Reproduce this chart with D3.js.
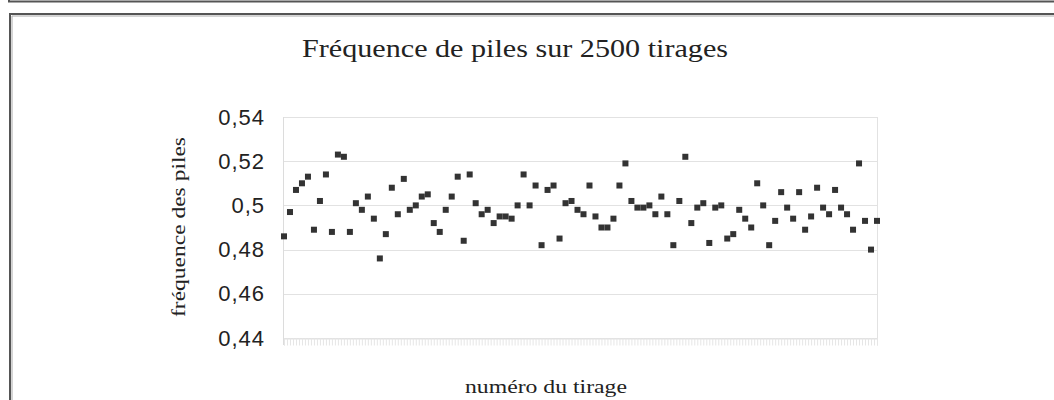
<!DOCTYPE html>
<html>
<head>
<meta charset="utf-8">
<script src="https://cdn.jsdelivr.net/npm/d3@7"></script>
<style>
  body { margin: 0; background: #fff; }
  svg { display: block; }
</style>
</head>
<body>
<div id="chart"></div>
<script>
'use strict';

// frequence des piles, un point tous les 25 tirages
var frequences = [
    0.486, 0.497, 0.507, 0.510, 0.513, 0.489, 0.502, 0.514, 0.488, 0.523,
    0.522, 0.488, 0.501, 0.498, 0.504, 0.494, 0.476, 0.487, 0.508, 0.496,
    0.512, 0.498, 0.500, 0.504, 0.505, 0.492, 0.488, 0.498, 0.504, 0.513,
    0.484, 0.514, 0.501, 0.496, 0.498, 0.492, 0.495, 0.495, 0.494, 0.500,
    0.514, 0.500, 0.509, 0.482, 0.507, 0.509, 0.485, 0.501, 0.502, 0.498,
    0.496, 0.509, 0.495, 0.490, 0.490, 0.494, 0.509, 0.519, 0.502, 0.499,
    0.499, 0.500, 0.496, 0.504, 0.496, 0.482, 0.502, 0.522, 0.492, 0.499,
    0.501, 0.483, 0.499, 0.500, 0.485, 0.487, 0.498, 0.494, 0.490, 0.510,
    0.500, 0.482, 0.493, 0.506, 0.499, 0.494, 0.506, 0.489, 0.495, 0.508,
    0.499, 0.496, 0.507, 0.499, 0.496, 0.489, 0.519, 0.493, 0.480, 0.493
];
var tirages = d3.range(25, 2501, 25);
var yTicks = [0.44, 0.46, 0.48, 0.5, 0.52, 0.54];

var titre = 'Fréquence de piles sur 2500 tirages';
var titreX = 'numéro du tirage';
var titreY = 'fréquence des piles';

var width = 1054, height = 400;
var plotLeft = 284, plotRight = 877, plotTop = 117, plotBottom = 338;

var fr = d3.formatLocale({decimal: ',', thousands: ' ', grouping: [3], currency: ['', ' €']});
var fmt = fr.format('.2~f');

var svg = d3.select('#chart').append('svg')
    .attr('width', width)
    .attr('height', height);

// cadres
svg.append('path')
    .attr('d', 'M9,0V1.5H' + width)
    .attr('fill', 'none').attr('stroke', '#555').attr('stroke-width', 2);
svg.append('path')
    .attr('d', 'M10,' + height + 'V14H' + width)
    .attr('fill', 'none').attr('stroke', '#555').attr('stroke-width', 2);
svg.append('path')
    .attr('d', 'M12,' + height + 'V16H' + width)
    .attr('fill', 'none').attr('stroke', '#aaa').attr('stroke-width', 1);

var x = d3.scalePoint()
    .domain(tirages)
    .range([plotLeft, plotRight])
    .padding(0);

var xTick = d3.scaleLinear()
    .domain([0, tirages.length - 1])
    .range([plotLeft, plotRight]);

var y = d3.scaleLinear()
    .domain([0.44, 0.54])
    .range([plotBottom, plotTop]);

// grille
svg.append('g')
    .selectAll('line')
    .data(yTicks)
    .enter()
    .append('line')
    .attr('x1', plotLeft).attr('x2', plotRight)
    .attr('y1', function(d) { return Math.round(y(d)) + 0.5; })
    .attr('y2', function(d) { return Math.round(y(d)) + 0.5; })
    .attr('stroke', '#e2e2e2');

svg.append('line')
    .attr('x1', plotLeft - 0.5).attr('x2', plotLeft - 0.5)
    .attr('y1', plotTop).attr('y2', plotBottom + 7)
    .attr('stroke', '#dcdcdc');
svg.append('line')
    .attr('x1', plotRight + 0.5).attr('x2', plotRight + 0.5)
    .attr('y1', plotTop).attr('y2', plotBottom + 7)
    .attr('stroke', '#e2e2e2');

// petites graduations sous l'axe
var xAxis = svg.append('g')
    .attr('transform', 'translate(0,' + (plotBottom + 0.5) + ')')
    .call(d3.axisBottom(xTick)
        .tickValues(d3.range(0, tirages.length - 0.9, 0.5))
        .tickSize(7)
        .tickFormat(''));
xAxis.select('.domain').attr('stroke', '#e2e2e2');
xAxis.selectAll('.tick line').attr('stroke', '#e6e6e6');

// axe des ordonnees
var yAxis = svg.append('g')
    .attr('transform', 'translate(' + plotLeft + ',0)')
    .call(d3.axisLeft(y)
        .tickValues(yTicks)
        .tickSize(0)
        .tickPadding(19)
        .tickFormat(fmt));
yAxis.select('.domain').remove();
yAxis.selectAll('.tick text')
    .attr('font-family', '"Liberation Sans", Arial, sans-serif')
    .attr('font-size', 22)
    .attr('letter-spacing', 1)
    .attr('fill', '#222');

// points
svg.append('g')
    .selectAll('rect')
    .data(frequences)
    .enter()
    .append('rect')
    .attr('x', function(d, i) { return x(tirages[i]) - 3; })
    .attr('y', function(d) { return y(d) - 3; })
    .attr('width', 6)
    .attr('height', 6)
    .attr('fill', '#333');

// textes
svg.append('text')
    .attr('x', 515).attr('y', 57)
    .attr('text-anchor', 'middle')
    .attr('font-family', '"Liberation Serif", "Times New Roman", serif')
    .attr('font-size', 25)
    .attr('textLength', 426)
    .attr('lengthAdjust', 'spacingAndGlyphs')
    .attr('fill', '#222')
    .text(titre);

svg.append('text')
    .attr('x', 546).attr('y', 393)
    .attr('text-anchor', 'middle')
    .attr('font-family', '"Liberation Serif", "Times New Roman", serif')
    .attr('font-size', 18)
    .attr('textLength', 162)
    .attr('lengthAdjust', 'spacingAndGlyphs')
    .attr('fill', '#222')
    .text(titreX);

svg.append('text')
    .attr('transform', 'translate(185,227) rotate(-90)')
    .attr('text-anchor', 'middle')
    .attr('font-family', '"Liberation Serif", "Times New Roman", serif')
    .attr('font-size', 18)
    .attr('textLength', 180)
    .attr('lengthAdjust', 'spacingAndGlyphs')
    .attr('fill', '#222')
    .text(titreY);
</script>
</body>
</html>
